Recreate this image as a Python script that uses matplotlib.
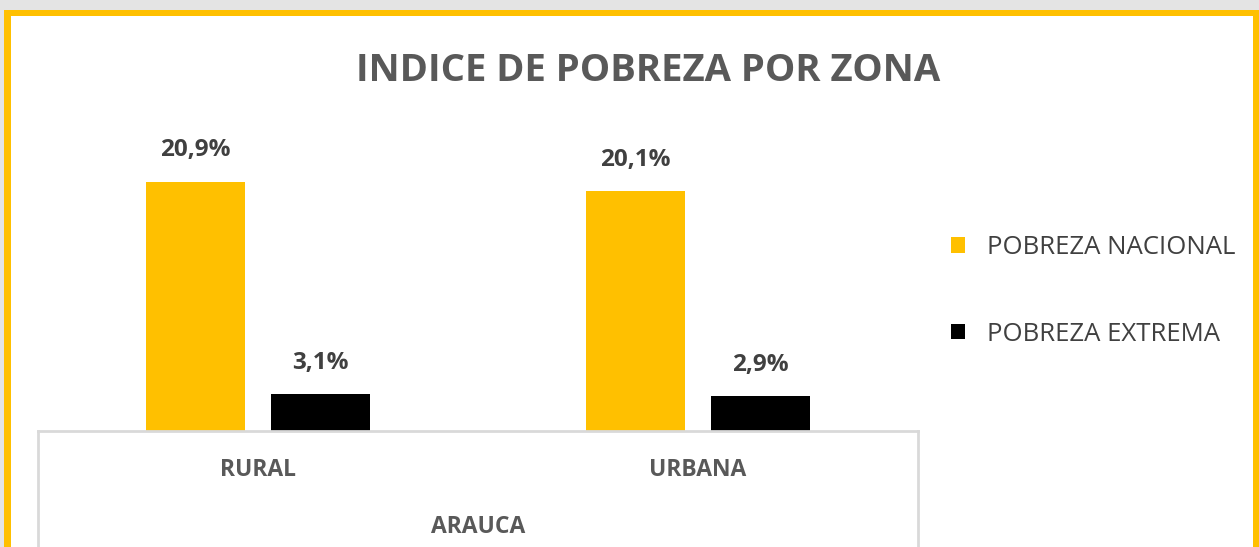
import matplotlib
matplotlib.use("Agg")
import matplotlib.pyplot as plt
import matplotlib.transforms as mtransforms
import numpy as np
from matplotlib.patches import Rectangle
from matplotlib.lines import Line2D

categories = ["RURAL", "URBANA"]
group_label = "ARAUCA"
series_names = ["POBREZA NACIONAL", "POBREZA EXTREMA"]
pobreza_nacional = [20.9, 20.1]
pobreza_extrema = [3.1, 2.9]
title = "INDICE DE POBREZA POR ZONA"

W, H = 1259, 547
fig = plt.figure(figsize=(W / 100, H / 100), dpi=100)
fig.patch.set_facecolor("white")

FONT = "Open Sans"
GOLD = "#FFC000"

def fx(px):
    return px / W

def fy(py):
    return 1 - py / H

# outer frame
fig.patches.append(Rectangle((0, fy(10)), 1, 1 - fy(10), transform=fig.transFigure,
                             facecolor="#e4e4e4", edgecolor="none", zorder=0))
fig.patches.append(Rectangle((0, 0), fx(4), 1, transform=fig.transFigure,
                             facecolor="#e4e4e4", edgecolor="none", zorder=0))
fig.patches.append(Rectangle((fx(4), fy(16)), fx(1255) - fx(4), fy(10) - fy(16),
                             transform=fig.transFigure, facecolor=GOLD, edgecolor="none", zorder=1))
fig.patches.append(Rectangle((fx(4), 0), fx(7), fy(10), transform=fig.transFigure,
                             facecolor=GOLD, edgecolor="none", zorder=1))
fig.patches.append(Rectangle((fx(1253), 0), fx(6), fy(10), transform=fig.transFigure,
                             facecolor=GOLD, edgecolor="none", zorder=1))

# axes: x 38..918, baseline y=431, top y=130
ax_left, ax_right, ax_bottom, ax_top = 38, 918, 431, 130
ax = fig.add_axes([fx(ax_left), fy(ax_bottom), fx(ax_right - ax_left), fy(ax_top) - fy(ax_bottom)])
ax.set_facecolor("none")
ymax = (ax_bottom - ax_top) / 11.93
ax.set_ylim(0, ymax)
ax.set_xlim(-0.5, 1.5)

x = np.arange(len(categories))
bw = 0.226
off = 0.142
b1 = ax.bar(x - off, pobreza_nacional, width=bw, color=GOLD, label=series_names[0], zorder=2)
b2 = ax.bar(x + off, pobreza_extrema, width=bw, color="#000000", label=series_names[1], zorder=2)

for bars, vals in ((b1, pobreza_nacional), (b2, pobreza_extrema)):
    for r, v in zip(bars, vals):
        ax.annotate(f"{v:.1f}%".replace(".", ","), (r.get_x() + r.get_width() / 2, v),
                    xytext=(0, 14), textcoords="offset points", ha="center", va="bottom",
                    fontsize=17.5, fontweight="bold", color="#404040", family=FONT)

for s in ax.spines.values():
    s.set_visible(False)
ax.set_xticks([])
ax.set_yticks([])

# category table lines
line_col = "#d9d9d9"
fig.add_artist(Line2D([fx(ax_left), fx(ax_right)], [fy(ax_bottom), fy(ax_bottom)],
                      color=line_col, lw=2, transform=fig.transFigure))
fig.add_artist(Line2D([fx(ax_left), fx(ax_left)], [fy(ax_bottom), 0],
                      color=line_col, lw=2, transform=fig.transFigure))
fig.add_artist(Line2D([fx(ax_right), fx(ax_right)], [fy(ax_bottom), 0],
                      color=line_col, lw=2, transform=fig.transFigure))

blend = mtransforms.blended_transform_factory(ax.transData, fig.transFigure)
for xi, c in zip(x, categories):
    ax.text(xi, fy(470), c, transform=blend,
            ha="center", va="center", fontsize=16.5, fontweight="bold", color="#595959", family=FONT)
ax.text(0.5, fy(527), group_label, transform=blend,
        ha="center", va="center", fontsize=16.5, fontweight="bold", color="#595959", family=FONT)

fig.text(fx(648), fy(71), title, ha="center", va="center", fontsize=27.5,
         fontweight="bold", color="#595959", family=FONT)

leg = fig.legend(handles=[b1, b2], labels=series_names, loc="center left",
                 bbox_to_anchor=(fx(928), fy(291)), frameon=False,
                 prop={"family": FONT, "size": 18.5}, labelcolor="#404040",
                 handlelength=0.55, handleheight=0.55, handletextpad=0.85, labelspacing=2.4)

fig.savefig("out.png", dpi=100, facecolor=fig.get_facecolor())
